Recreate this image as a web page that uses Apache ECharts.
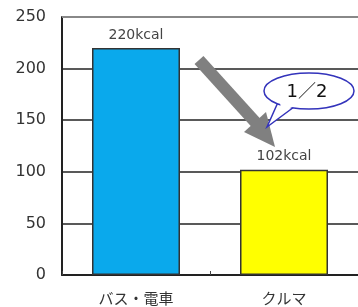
<!DOCTYPE html>
<html>
<head>
<meta charset="utf-8">
<script src="https://cdn.jsdelivr.net/npm/echarts@6/dist/echarts.min.js"></script>
<style>
  html, body { margin: 0; padding: 0; background: #fff; }
  #chart { width: 358px; height: 307px; }
</style>
</head>
<body>
<div id="chart"></div>
<script>
var categories = ['バス・電車', 'クルマ'];
var kcalValues = [220, 102];
var barColors = ['#0aa9ec', '#ffff00'];
var yTicks = [0, 50, 100, 150, 200, 250];

var myChart = echarts.init(document.getElementById('chart'));
var font = '"DejaVu Sans", "Noto Sans CJK JP", sans-serif';

var option = {
  backgroundColor: '#fff',
  animation: false,
  grid: { left: 62, top: 17, width: 298, height: 258 },
  xAxis: {
    type: 'category',
    data: categories,
    axisLine: { lineStyle: { color: '#222', width: 2 } },
    axisTick: { show: true, inside: true, length: 4, lineStyle: { color: '#444' } },
    axisLabel: { color: '#333', fontSize: 15, fontFamily: '"Noto Sans CJK JP", sans-serif', margin: 16 }
  },
  yAxis: {
    type: 'value',
    min: yTicks[0],
    max: yTicks[yTicks.length - 1],
    interval: 50,
    axisLine: { show: true, lineStyle: { color: '#222', width: 2 } },
    axisTick: { show: false },
    axisLabel: { color: '#333', fontSize: 16, fontFamily: font, margin: 16 },
    splitLine: { lineStyle: { color: '#222', width: 1.5 } }
  },
  series: [{
    type: 'bar',
    barWidth: 88,
    data: kcalValues.map(function (v, i) {
      return { value: v, itemStyle: { color: barColors[i] } };
    }),
    itemStyle: { borderColor: '#333', borderWidth: 1.5 },
    label: {
      show: true,
      position: 'top',
      distance: 6,
      color: '#444',
      fontSize: 14,
      fontFamily: font,
      formatter: '{c}kcal'
    }
  }]
};
myChart.setOption(option);

// gray top gridline (250)
var topLineY = myChart.convertToPixel({ yAxisIndex: 0 }, 250);

myChart.setOption({
  graphic: [
    {
      type: 'line',
      shape: { x1: 62, y1: topLineY, x2: 358, y2: topLineY },
      style: { stroke: '#888', lineWidth: 2 },
      z: 10
    },
    // arrow shaft
    {
      type: 'line',
      shape: { x1: 199, y1: 60, x2: 257, y2: 124 },
      style: { stroke: '#808080', lineWidth: 12 },
      z: 20
    },
    // arrow head
    {
      type: 'polygon',
      shape: { points: [[244, 132], [266, 112], [275, 147]] },
      style: { fill: '#808080' },
      z: 20
    },
    // speech bubble tail
    {
      type: 'polygon',
      shape: { points: [[279, 100], [298, 104], [267, 127]] },
      style: { fill: '#fff', stroke: '#3333bb', lineWidth: 1.5 },
      z: 21
    },
    {
      type: 'ellipse',
      shape: { cx: 309, cy: 91, rx: 45, ry: 18 },
      style: { fill: '#fff', stroke: '#3333bb', lineWidth: 1.5 },
      z: 22
    },
    {
      type: 'polygon',
      shape: { points: [[280, 101], [297, 105], [281, 112]] },
      style: { fill: '#fff' },
      z: 23
    },
    {
      type: 'text',
      x: 307, y: 92,
      style: {
        text: '1／2', fill: '#111', fontSize: 18, fontFamily: font,
        align: 'center', verticalAlign: 'middle'
      },
      z: 24
    }
  ]
});
</script>
</body>
</html>
